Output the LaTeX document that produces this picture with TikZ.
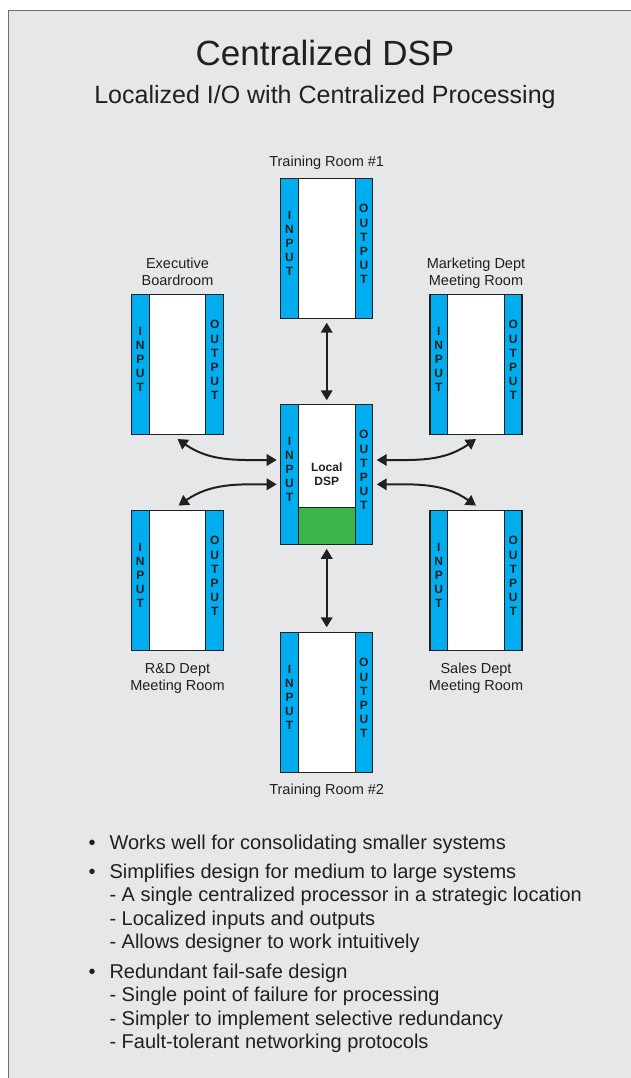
\documentclass[tikz,border=0pt]{standalone}
\usepackage{fontspec}
\setmainfont{Liberation Sans}
\usetikzlibrary{arrows.meta}
\definecolor{bg}{HTML}{E6E7E8}
\definecolor{frm}{HTML}{6D6E71}
\definecolor{ink}{HTML}{231F20}
\definecolor{cy}{HTML}{00AEEF}
\definecolor{gr}{HTML}{39B54A}
\newcommand\roombox[3]{%
  \node[room] (#1) at (#2,#3) {};
  \draw[strip] (#1.north west) rectangle ([xshift=17.6pt]#1.south west);
  \draw[strip] (#1.north east) rectangle ([xshift=-17.6pt]#1.south east);
  \node[vlab] (#1-in) at ([xshift=8.8pt,yshift=5pt]#1.west) {I\\N\\P\\U\\T};
  \node[vlab] (#1-out) at ([xshift=-8.8pt,yshift=4pt]#1.east) {O\\U\\T\\P\\U\\T};
}
\begin{document}
\begin{tikzpicture}[x=1pt,y=-1pt,
  room/.style={draw=ink, line width=1.1pt, fill=white, minimum width=92pt, minimum height=140pt, inner sep=0pt, outer sep=0pt},
  strip/.style={fill=cy, draw=ink, line width=1.1pt},
  vlab/.style={font=\bfseries\fontsize{12}{14.2}\selectfont, align=center, text=ink, inner sep=0pt},
  lab/.style={font=\fontsize{14.5}{17}\selectfont, text=ink, anchor=base, inner sep=0pt},
  link/.style={draw=ink, line width=2pt, {Triangle[width=11.5pt,length=10pt]}-{Triangle[width=11.5pt,length=10pt]}},
  txt/.style={font=\fontsize{20}{24}\selectfont, text=ink, anchor=base west, inner sep=0pt},
  dot/.style={font=\fontsize{20}{24}\selectfont, text=ink, anchor=base, inner sep=0pt}]
\fill[white] (0,0) rectangle (631,1078);
\useasboundingbox (0,0) rectangle (631,1078);
\draw[frm, line width=1.8pt, fill=bg] (8.5,10.5) rectangle (660,1100);

\node[font=\fontsize{35}{40}\selectfont, text=ink, anchor=base, inner sep=0pt] (title) at (325,66) {Centralized DSP};
\node[font=\fontsize{25}{28}\selectfont, text=ink, anchor=base, inner sep=0pt] (sub) at (325,103.3) {Localized I/O with Centralized Processing};

\roombox{tr1}{326.7}{248.3}
\roombox{exec}{177.5}{364.3}
\roombox{mkt}{476}{364.3}
\node[room] (ctr) at (326.7,474.3) {};
\draw[fill=gr, draw=ink, line width=1.1pt] ([xshift=17.6pt,yshift=37pt]ctr.south west) rectangle ([xshift=-17.6pt]ctr.south east);
\draw[strip] (ctr.north west) rectangle ([xshift=17.6pt]ctr.south west);
\draw[strip] (ctr.north east) rectangle ([xshift=-17.6pt]ctr.south east);
\node[vlab] (ctr-in) at ([xshift=8.8pt,yshift=5pt]ctr.west) {I\\N\\P\\U\\T};
\node[vlab] (ctr-out) at ([xshift=-8.8pt,yshift=4pt]ctr.east) {O\\U\\T\\P\\U\\T};
\node[font=\bfseries\fontsize{12}{13.4}\selectfont, align=center, text=ink, inner sep=0pt] (dsp) at (ctr) {Local\\DSP};
\roombox{rd}{177.5}{580.3}
\roombox{sales}{476}{580.3}
\roombox{tr2}{326.7}{702.3}

\node[lab] (l-tr1) at (326.7,166.7) {Training Room \#1};
\node[lab] (l-ex1) at (177.5,268.3) {Executive};
\node[lab] (l-ex2) at (177.5,285) {Boardroom};
\node[lab] (l-mk1) at (476,268.3) {Marketing Dept};
\node[lab] (l-mk2) at (476,285) {Meeting Room};
\node[lab] (l-rd1) at (177.5,673.3) {R\&D Dept};
\node[lab] (l-rd2) at (177.5,690.7) {Meeting Room};
\node[lab] (l-sa1) at (476,673.3) {Sales Dept};
\node[lab] (l-sa2) at (476,690.7) {Meeting Room};
\node[lab] (l-tr2) at (326.7,794) {Training Room \#2};

\draw[link] ([yshift=4pt]ctr.north) -- ([yshift=-4.4pt]tr1.south);
\draw[link] ([yshift=-4.5pt]ctr.south) -- ([yshift=5pt]tr2.north);
\draw[link] ([xshift=-4pt,yshift=14.3pt]ctr.west) to[out=180,in=-35] ([yshift=-4.7pt]exec.south);
\draw[link] ([xshift=-4pt,yshift=-10pt]ctr.west) to[out=180,in=35] ([xshift=1pt,yshift=4.7pt]rd.north);
\draw[link] ([xshift=4pt,yshift=14.3pt]ctr.east) to[out=0,in=-145] ([yshift=-4.7pt]mkt.south);
\draw[link] ([xshift=4pt,yshift=-10pt]ctr.east) to[out=0,in=145] ([yshift=4.7pt]sales.north);

\node[dot] (b1) at (92,849.3) {•};
\node[txt] (t1) at (109.3,849.3) {Works well for consolidating smaller systems};
\node[dot] (b2) at (92,878.3) {•};
\node[txt] (t2) at (109.3,878.3) {Simplifies design for medium to large systems};
\node[txt] (t3) at (109.3,901.7) {- A single centralized processor in a strategic location};
\node[txt] (t4) at (109.3,925) {- Localized inputs and outputs};
\node[txt] (t5) at (109.3,948.3) {- Allows designer to work intuitively};
\node[dot] (b3) at (92,978.3) {•};
\node[txt] (t6) at (109.3,978.3) {Redundant fail-safe design};
\node[txt] (t7) at (109.3,1001.7) {- Single point of failure for processing};
\node[txt] (t8) at (109.3,1025) {- Simpler to implement selective redundancy};
\node[txt] (t9) at (109.3,1048.3) {- Fault-tolerant networking protocols};
\end{tikzpicture}
\end{document}
